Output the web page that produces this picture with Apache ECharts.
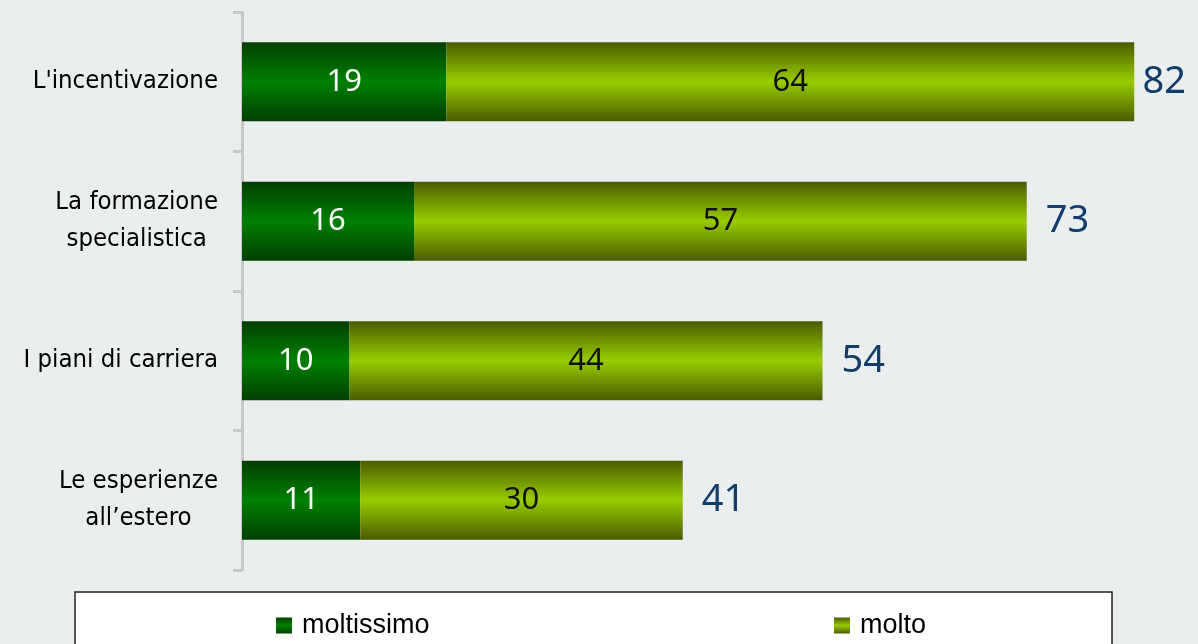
<!DOCTYPE html>
<html>
<head>
<meta charset="utf-8">
<script src="https://cdn.jsdelivr.net/npm/echarts@6/dist/echarts.min.js"></script>
<style>
html, body { margin: 0; padding: 0; background: #EAEEEF; }
#main { width: 1198px; height: 644px; }
</style>
</head>
<body>
<div id="main"></div>
<script>
var categorie = ["L'incentivazione", 'La formazione\nspecialistica', 'I piani di carriera', 'Le esperienze\nall\u2019estero'];
var moltissimo = [19, 16, 10, 11];
var molto = [64, 57, 44, 30];
var totali = [82, 73, 54, 41];

function grad(c1, c2) {
	return new echarts.graphic.LinearGradient(0, 0, 0, 1, [
		{ offset: 0, color: c1 },
		{ offset: 0.5, color: c2 },
		{ offset: 1, color: c1 }
	]);
}

var fontCat = 'DejaVu Sans Condensed, DejaVu Sans';
var myChart = echarts.init(document.getElementById('main'));
var option = {
	backgroundColor: '#EAEEEF',
	animation: false,
	graphic: [{
		type: 'rect',
		shape: { x: 75, y: 592, width: 1037, height: 60 },
		style: { fill: '#ffffff', stroke: '#222222', lineWidth: 1.5 },
		z: 0
	}],
	legend: [{
		data: ['moltissimo'],
		left: 276,
		top: 612,
		padding: 0,
		icon: 'rect',
		itemWidth: 16,
		itemHeight: 16,
		itemGap: 6,
		textStyle: { fontFamily: 'Liberation Sans', fontSize: 27, color: '#000', padding: [0, 0, 0, 5] }
	}, {
		data: ['molto'],
		left: 834,
		top: 612,
		padding: 0,
		icon: 'rect',
		itemWidth: 16,
		itemHeight: 16,
		itemGap: 6,
		textStyle: { fontFamily: 'Liberation Sans', fontSize: 27, color: '#000', padding: [0, 0, 0, 5] }
	}],
	grid: {
		left: 242,
		top: 12,
		height: 558,
		width: 946
	},
	xAxis: {
		type: 'value',
		min: 0,
		max: 88,
		show: false
	},
	yAxis: {
		type: 'category',
		inverse: true,
		data: categorie,
		axisLine: { lineStyle: { color: '#C8C8C8', width: 3 } },
		axisTick: { show: true, length: 9, lineStyle: { color: '#C8C8C8', width: 3 } },
		axisLabel: {
			margin: 24,
			color: '#000',
			fontFamily: fontCat,
			fontSize: 25.5,
			lineHeight: 37,
			formatter: function (v) {
				return v.split('\n').map(function (s) { return '{c|' + s + '}'; }).join('\n');
			},
			rich: {
				c: { align: 'center', fontFamily: fontCat, fontSize: 25.5, lineHeight: 37, color: '#000' }
			}
		}
	},
	series: [{
		name: 'moltissimo',
		type: 'bar',
		stack: 'tot',
		barWidth: 79,
		barGap: '-100%',
		itemStyle: { color: grad('#003F00', '#008000') },
		label: {
			show: true,
			position: 'inside',
			color: '#ffffff',
			fontFamily: 'Noto Sans',
			fontSize: 31
		},
		data: moltissimo,
		z: 3
	}, {
		name: 'molto',
		type: 'bar',
		stack: 'tot',
		barWidth: 79,
		barGap: '-100%',
		itemStyle: { color: grad('#4A5C00', '#99CC00') },
		label: {
			show: true,
			position: 'inside',
			color: '#111111',
			fontFamily: 'Noto Sans',
			fontSize: 31
		},
		data: molto,
		z: 3
	}, {
		name: 'totale',
		type: 'bar',
		barWidth: 79,
		barGap: '-100%',
		silent: true,
		itemStyle: { color: 'rgba(0,0,0,0)' },
		label: {
			show: true,
			position: 'right',
			distance: 19,
			color: '#123C69',
			fontFamily: 'Noto Sans',
			fontSize: 38
		},
		data: totali,
		z: 2
	}]
};
myChart.setOption(option);
</script>
</body>
</html>
